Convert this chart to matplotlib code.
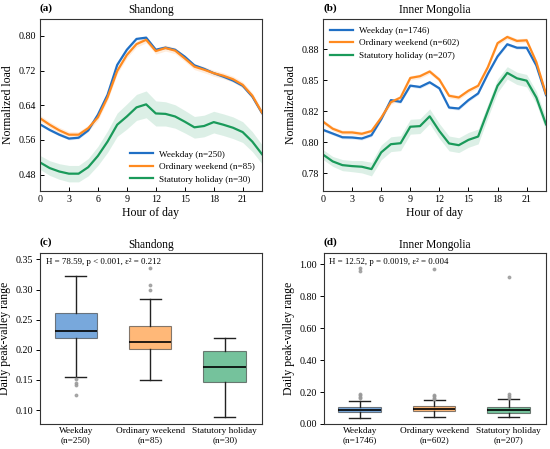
import numpy as np
import matplotlib
matplotlib.use("Agg")
import matplotlib.pyplot as plt
from matplotlib.ticker import MultipleLocator, FormatStrFormatter

plt.rcParams['font.family'] = ['Liberation Serif', 'DejaVu Serif']
plt.rcParams['mathtext.fontset'] = 'stix'

hours = np.arange(24)

# (a) Shandong mean profiles
sd_weekday = [0.596, 0.583, 0.572, 0.563, 0.565, 0.582, 0.618, 0.664, 0.733, 0.768, 0.793, 0.796,
              0.768, 0.773, 0.768, 0.752, 0.732, 0.724, 0.714, 0.706, 0.697, 0.685, 0.660, 0.622]
sd_weekend = [0.610, 0.595, 0.582, 0.572, 0.572, 0.587, 0.612, 0.658, 0.719, 0.756, 0.781, 0.791,
              0.765, 0.772, 0.766, 0.748, 0.729, 0.722, 0.714, 0.708, 0.700, 0.687, 0.662, 0.623]
sd_holiday = [0.508, 0.495, 0.487, 0.482, 0.482, 0.497, 0.523, 0.556, 0.595, 0.614, 0.635, 0.642,
              0.621, 0.620, 0.614, 0.602, 0.589, 0.592, 0.601, 0.595, 0.588, 0.578, 0.556, 0.527]
sd_weekday_ci = [0.003] * 24
sd_weekend_ci = [0.007] * 24
sd_holiday_ci = [0.016, 0.017, 0.018, 0.019, 0.019, 0.020, 0.022, 0.025, 0.027, 0.029, 0.030, 0.031,
                 0.029, 0.028, 0.027, 0.026, 0.025, 0.025, 0.025, 0.025, 0.025, 0.024, 0.023, 0.022]

# (b) Inner Mongolia mean profiles
im_weekday = [0.810, 0.807, 0.804, 0.8038, 0.803, 0.8057, 0.8185, 0.834, 0.8326, 0.8457, 0.8446, 0.8484,
              0.8435, 0.828, 0.8272, 0.834, 0.8394, 0.8552, 0.8693, 0.8791, 0.8763, 0.8763, 0.862, 0.838]
im_weekend = [0.8166, 0.8109, 0.8079, 0.8079, 0.8068, 0.809, 0.8198, 0.8323, 0.8361, 0.8519, 0.8533, 0.8571,
              0.8505, 0.8375, 0.8361, 0.8416, 0.8456, 0.8606, 0.880, 0.885, 0.8818, 0.8823, 0.8647, 0.8389]
im_holiday = [0.790, 0.7845, 0.7815, 0.7807, 0.7802, 0.7783, 0.7918, 0.7984, 0.7992, 0.8125, 0.813, 0.8209,
              0.809, 0.799, 0.7976, 0.8019, 0.8046, 0.8253, 0.8456, 0.856, 0.8516, 0.8497, 0.8361, 0.8144]
im_weekday_ci = [0.0012] * 24
im_weekend_ci = [0.0018] * 24
im_holiday_ci = [0.004, 0.004, 0.0045, 0.0045, 0.005, 0.0055, 0.006, 0.006, 0.006, 0.006, 0.006, 0.006,
                 0.006, 0.006, 0.006, 0.006, 0.006, 0.0055, 0.0055, 0.005, 0.005, 0.005, 0.005, 0.005]

# (c), (d) peak-valley range box statistics: whislo, q1, med, q3, whishi
groups = ['Weekday', 'Ordinary weekend', 'Statutory holiday']
sd_n = [250, 85, 30]
im_n = [1746, 602, 207]
sd_box = [[0.155, 0.219, 0.231, 0.2615, 0.322],
          [0.150, 0.201, 0.213, 0.240, 0.284],
          [0.089, 0.146, 0.172, 0.198, 0.219]]
sd_fliers = [[0.152, 0.145, 0.141, 0.125], [0.336, 0.307, 0.299], []]
im_box = [[0.0375, 0.075, 0.090, 0.106, 0.146],
          [0.042, 0.079, 0.095, 0.110, 0.148],
          [0.044, 0.069, 0.087, 0.106, 0.154]]
im_fliers = [[0.16, 0.17, 0.18, 0.19, 0.96, 0.975],
             [0.155, 0.165, 0.175, 0.18, 0.97],
             [0.165, 0.175, 0.19, 0.92]]

c_blue = '#1f6fc5'
c_orange = '#ff8a1f'
c_green = '#1a9a5a'
colors = [c_blue, c_orange, c_green]

fig = plt.figure(figsize=(5.5, 4.49), dpi=100)
ax_a = fig.add_axes([0.0727, 0.5746, 0.4036, 0.3831])
ax_b = fig.add_axes([0.5873, 0.5746, 0.4055, 0.3831])
ax_c = fig.add_axes([0.0727, 0.0557, 0.4036, 0.380])
ax_d = fig.add_axes([0.589, 0.0557, 0.4036, 0.380])


def line_panel(ax, series, cis, ns, title, letter, loc):
    labels = ['Weekday', 'Ordinary weekend', 'Statutory holiday']
    for s, ci, c, lab, n in zip(series, cis, colors, labels, ns):
        s = np.array(s)
        ci = np.array(ci)
        ax.fill_between(hours, s - ci, s + ci, color=c, alpha=0.15, lw=0)
        ax.plot(hours, s, color=c, lw=1.6, label=f'{lab} (n={n})')
    ax.set_xlim(0, 23)
    ax.set_xticks(range(0, 22, 3))
    ax.set_xlabel('Hour of day', fontsize=8.5, labelpad=2)
    ax.set_ylabel('Normalized load', fontsize=8.5, labelpad=3)
    ax.set_title(title, fontsize=8.3, pad=4)
    ax.text(0.0, 1.035, letter, transform=ax.transAxes, fontsize=8, fontweight='bold',
            ha='left', va='bottom')
    ax.tick_params(direction='in', labelsize=7.2, length=3, width=0.7, pad=3)
    ax.legend(loc=loc, frameon=False, fontsize=6.6, handlelength=2.5, labelspacing=0.45,
              borderaxespad=0.4, handletextpad=0.6)
    for sp in ax.spines.values():
        sp.set_color('#333333')
        sp.set_linewidth(0.8)


line_panel(ax_a, [sd_weekday, sd_weekend, sd_holiday],
           [sd_weekday_ci, sd_weekend_ci, sd_holiday_ci], sd_n, 'Shandong', '(a)', 'lower right')
ax_a.set_ylim(0.442, 0.839)
ax_a.yaxis.set_major_locator(MultipleLocator(0.08))
ax_a.yaxis.set_major_formatter(FormatStrFormatter('%.2f'))

line_panel(ax_b, [im_weekday, im_weekend, im_holiday],
           [im_weekday_ci, im_weekend_ci, im_holiday_ci], im_n, 'Inner Mongolia', '(b)', 'upper left')
ax_b.set_ylim(0.7606, 0.8995)
ax_b.yaxis.set_major_locator(MultipleLocator(0.025))
ax_b.yaxis.set_major_formatter(FormatStrFormatter('%.2f'))


def box_panel(ax, box, fliers, ns, title, letter, note):
    stats = []
    for b, f, g, n in zip(box, fliers, groups, ns):
        stats.append(dict(whislo=b[0], q1=b[1], med=b[2], q3=b[3], whishi=b[4],
                          fliers=f, label=f'{g}\n(n={n})'))
    bp = ax.bxp(stats, positions=[0, 1, 2], widths=0.57, patch_artist=True,
                medianprops=dict(color='black', lw=1.2),
                whiskerprops=dict(color='#222222', lw=1.0),
                capprops=dict(color='#222222', lw=1.0),
                boxprops=dict(lw=0.8),
                flierprops=dict(marker='o', markersize=1.8, markerfacecolor='#999999',
                                markeredgecolor='#999999', alpha=0.8))
    for patch, c in zip(bp['boxes'], colors):
        patch.set_facecolor(c)
        patch.set_alpha(0.6)
        patch.set_edgecolor('#333333')
    ax.set_xlim(-0.48, 2.5)
    ax.set_ylabel('Daily peak-valley range', fontsize=8.5, labelpad=3)
    ax.set_title(title, fontsize=8.3, pad=4)
    ax.text(0.0, 1.035, letter, transform=ax.transAxes, fontsize=8, fontweight='bold',
            ha='left', va='bottom')
    ax.text(0.025, 0.97, note, transform=ax.transAxes, fontsize=6.4, ha='left', va='top')
    ax.tick_params(axis='y', direction='out', labelsize=7.2, length=3, width=0.7, pad=2)
    ax.tick_params(axis='x', direction='out', labelsize=6.7, length=0, pad=2)
    for sp in ax.spines.values():
        sp.set_color('#333333')
        sp.set_linewidth(0.8)


box_panel(ax_c, sd_box, sd_fliers, sd_n, 'Shandong', '(c)',
          'H = 78.59, p < 0.001, ε² = 0.212')
ax_c.set_ylim(0.0768, 0.36)
ax_c.set_yticks([0.10, 0.15, 0.20, 0.25, 0.30, 0.35])
ax_c.yaxis.set_major_formatter(FormatStrFormatter('%.2f'))

box_panel(ax_d, im_box, im_fliers, im_n, 'Inner Mongolia', '(d)',
          'H = 12.52, p = 0.0019, ε² = 0.004')
ax_d.set_ylim(0.0, 1.069)
ax_d.set_yticks([0.0, 0.2, 0.4, 0.6, 0.8, 1.0])
ax_d.yaxis.set_major_formatter(FormatStrFormatter('%.2f'))

fig.savefig('out.png', dpi=100)
